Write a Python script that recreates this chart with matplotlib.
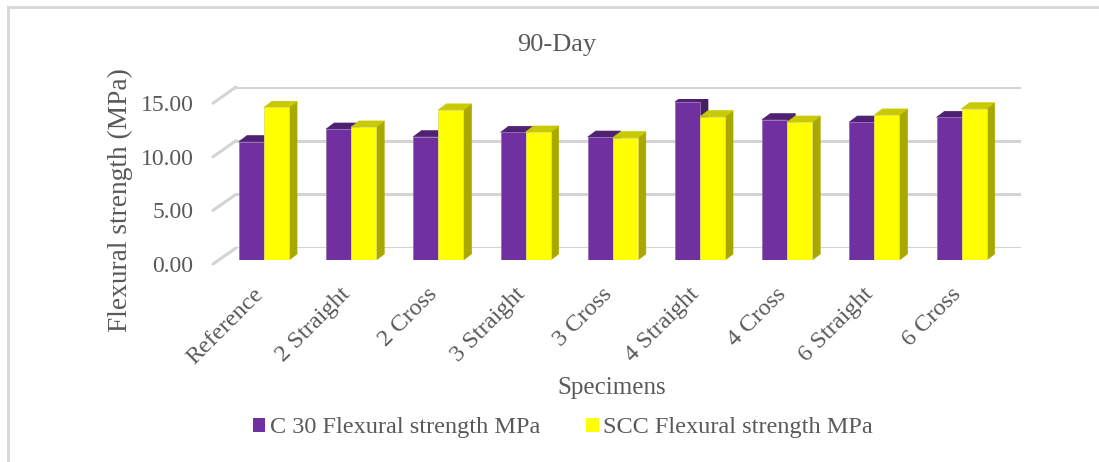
import matplotlib.pyplot as plt
from matplotlib.patches import Polygon, Rectangle, ConnectionPatch
from matplotlib.lines import Line2D

categories = ['Reference', '2 Straight', '2 Cross', '3 Straight', '3 Cross',
              '4 Straight', '4 Cross', '6 Straight', '6 Cross']
c30 = [11.04, 12.22, 11.50, 11.91, 11.47, 14.74, 13.09, 12.87, 13.31]
scc = [14.24, 12.41, 14.00, 11.94, 11.41, 13.37, 12.87, 13.53, 14.11]
y_ticks = [0, 5, 10, 15]
series_names = ['C 30 Flexural strength MPa', 'SCC Flexural strength MPa']

W, H = 1099, 462
plt.rcParams['font.family'] = ['Liberation Serif', 'DejaVu Serif']
txt = '#595959'
grid_c = '#d4d4d4'

fig = plt.figure(figsize=(W / 100, H / 100), dpi=100)


def box(left, right, top, bottom):
    # pixel box (from top-left) -> figure fraction rect
    return [left / W, 1 - bottom / H, (right - left) / W, (bottom - top) / H]


# outer chart border (only top and left are inside the picture)
fig.add_artist(Line2D([8 / W, 1.0], [1 - 7 / H, 1 - 7 / H], color='#d9d9d9', lw=2.2))
fig.add_artist(Line2D([8 / W, 8 / W], [0, 1 - 7 / H], color='#d9d9d9', lw=2.2))

# front plane (tick labels) and back wall (gridlines)
ax_front = fig.add_axes(box(213, 999, 103.2, 264))
ax_back = fig.add_axes(box(236, 1021, 87, 248))
for a in (ax_front, ax_back):
    a.set_ylim(0, 15)
    a.set_xlim(0, 1)
    a.patch.set_visible(False)
    for s in a.spines.values():
        s.set_visible(False)
    a.set_xticks([])
ax_back.set_yticks([])
for v in y_ticks:
    ax_back.axhline(v, color=grid_c, lw=2.2, zorder=0)
    con = ConnectionPatch(xyA=(0, v), coordsA=ax_front.transData,
                          xyB=(0, v), coordsB=ax_back.transData,
                          color=grid_c, lw=2.2)
    fig.add_artist(con)
ax_front.set_yticks(y_ticks)
ax_front.set_yticklabels(['%.2f' % v for v in y_ticks])
ax_front.tick_params(axis='y', length=0, pad=14, labelsize=17, labelcolor=txt)
ax_front.set_ylabel('Flexural strength (MPa)', fontsize=19.7, color=txt)
ax_front.yaxis.set_label_coords(-0.102, 0.40)

# bars
ax = fig.add_axes(box(218, 1004, 99.2, 260))
ax.set_xlim(-(264 - 218) / 87.2, (1004 - 264) / 87.2)
ax.set_ylim(0, 15)
ax.patch.set_visible(False)
for s in ax.spines.values():
    s.set_visible(False)
ax.set_yticks([])

bw = 25 / 87.2
ddx = 8 / 87.2
ddy = 6 / 10.72
styles = [('#7030a0', '#4f2172', '#45205f', '#9a70bb'),
          ('#ffff00', '#c9c900', '#a8a800', '#e0e060')]
for k, (vals, (front, top, side, edge)) in enumerate(zip([c30, scc], styles)):
    for i, v in enumerate(vals):
        x0 = i - bw + k * bw
        x1 = x0 + bw
        ax.add_patch(Polygon([(x1, 0), (x1 + ddx, ddy), (x1 + ddx, v + ddy), (x1, v)],
                             closed=True, facecolor=side, edgecolor=side, lw=0.5, zorder=2 + k))
        ax.add_patch(Polygon([(x0, v), (x0 + ddx, v + ddy), (x1 + ddx, v + ddy), (x1, v)],
                             closed=True, facecolor=top, edgecolor=top, lw=0.5, zorder=2 + k))
    ax.bar([i - bw / 2 + k * bw for i in range(len(vals))], vals, width=bw,
           color=front, edgecolor=edge, linewidth=0.6, zorder=2.5 + k)

ax.set_xticks([i - 0.13 for i in range(len(categories))])
ax.set_xticklabels(categories, rotation=45, ha='right', va='top',
                   rotation_mode='anchor', fontsize=17.5, color=txt)
ax.tick_params(axis='x', length=0, pad=17)

fig.text(557 / W, 1 - 45 / H, '90-Day', fontsize=19, color=txt, ha='center', va='center')
fig.text(612 / W, 1 - 388 / H, 'Specimens', fontsize=18, color=txt, ha='center', va='center')

handles = [Rectangle((0, 0), 1, 1, facecolor=styles[0][0]),
           Rectangle((0, 0), 1, 1, facecolor=styles[1][0])]
fig.legend(handles, series_names, loc='center', bbox_to_anchor=(563 / W, 1 - 428 / H),
           ncol=2, frameon=False, fontsize=17.5, labelcolor=txt, handlelength=0.5,
           handleheight=0.55, handletextpad=0.2, columnspacing=1.9)

fig.savefig('out.png', dpi=100)
